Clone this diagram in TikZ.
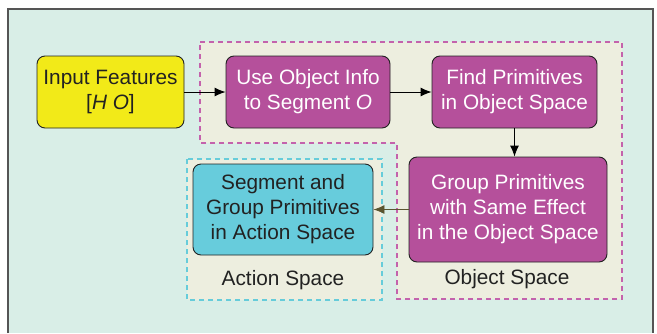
\documentclass[tikz,border=0pt]{standalone}
\usepackage{fontspec}
\setmainfont{Liberation Sans}
\usetikzlibrary{arrows.meta}
\definecolor{mint}{HTML}{D9EEE7}
\definecolor{beige}{HTML}{EDEEDF}
\definecolor{panelline}{HTML}{555555}
\definecolor{yel}{HTML}{F2EA18}
\definecolor{mag}{HTML}{B5509B}
\definecolor{cyanbox}{HTML}{67CCDC}
\definecolor{magdash}{HTML}{C462AC}
\definecolor{cyandash}{HTML}{66CCDA}
\definecolor{txt}{HTML}{222222}
\definecolor{olive}{HTML}{5A5530}
\tikzset{
  stepbox/.style={draw=txt, line width=0.9pt, rounded corners=8pt, align=center,
    inner sep=0pt, font=\fontsize{20.8}{25}\selectfont},
  flow/.style={-{Latex[length=11pt,width=9pt]}, line width=0.9pt, draw=black},
  region/.style={line width=1.1pt, dash pattern=on 5pt off 4pt},
  lbl/.style={font=\fontsize{20.8}{25}\selectfont, text=txt, inner sep=0pt}
}
\begin{document}
\begin{tikzpicture}[x=1pt,y=-1pt]
\useasboundingbox (0,0) rectangle (657,333);
\fill[white] (0,0) rectangle (657,333);
\fill[mint] (8,9) rectangle (653,333);
\draw[panelline, line width=1.8pt] (8,333) -- (8,9) -- (653,9) -- (653,333);
% regions
\draw[region, fill=beige, draw=magdash] (200,42) -- (622,42) -- (622,299) -- (397,299) -- (397,143) -- (200,143) -- cycle;
\draw[region, fill=beige, draw=cyandash] (187,159) rectangle (382,300);
% nodes
\node[stepbox, fill=yel, text=txt, minimum width=147pt, minimum height=72pt] (inp) at (110.5,92) {Input Features\\{[}\textit{H O}{]}};
\node[stepbox, fill=mag, text=white, minimum width=164pt, minimum height=72pt] (use) at (308,92) {Use Object Info\\to Segment \textit{O}};
\node[stepbox, fill=mag, text=white, minimum width=165pt, minimum height=72pt] (find) at (514.5,92) {Find Primitives\\in Object Space};
\node[stepbox, fill=mag, text=white, minimum width=198pt, minimum height=105pt] (grp) at (508,209.5) {Group Primitives\\with Same Effect\\in the Object Space};
\node[stepbox, fill=cyanbox, text=txt, minimum width=180pt, minimum height=91pt] (seg) at (283,209.5) {Segment and\\Group Primitives\\in Action Space};
\node[lbl] (albl) at (283,280) {Action Space};
\node[lbl] (olbl) at (507,279) {Object Space};
% connectors
\draw[flow] (inp) -- (use);
\draw[flow] (use) -- (find);
\draw[flow] (find.south) -- (find.south |- grp.north);
\draw[flow, draw=olive] (grp) -- (seg);
\end{tikzpicture}
\end{document}
